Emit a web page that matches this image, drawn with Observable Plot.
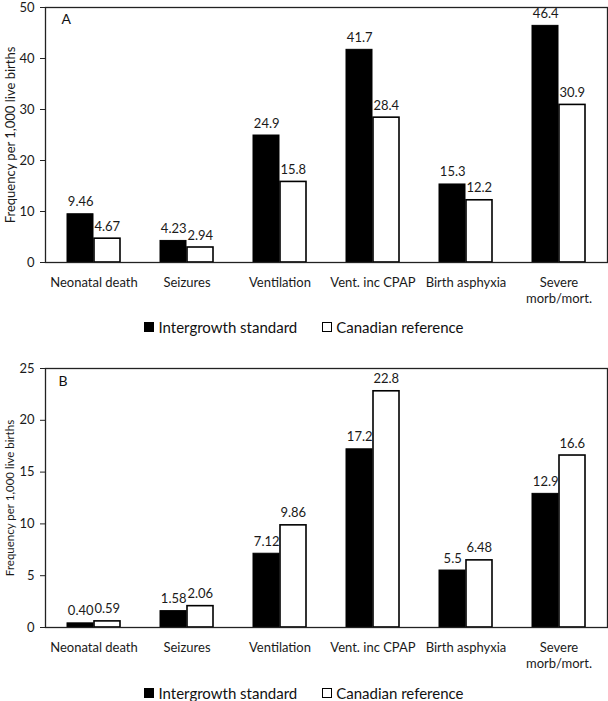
<!DOCTYPE html>
<html>
<head>
<meta charset="utf-8">
<script src="https://cdn.jsdelivr.net/npm/d3@7"></script>
<script src="https://cdn.jsdelivr.net/npm/@observablehq/plot@0.6"></script>
<style>
  html, body { margin: 0; padding: 0; background: #fff; overflow: hidden; }
  body { width: 608px; font-family: Lato, "Open Sans", sans-serif; color: #111; }
  .legend { display: flex; justify-content: center; align-items: center; font-size: 15px; gap: 25px; }
  .legend .item { display: flex; align-items: center; gap: 4px; }
  .legend .sw { width: 10px; height: 10px; box-sizing: border-box; border: 1.5px solid #000; }
  svg { display: block; }
</style>
</head>
<body>
<div id="chart"></div>
<script>
// ---- data ----
const categories = ["Neonatal death", "Seizures", "Ventilation", "Vent. inc CPAP", "Birth asphyxia", "Severe morb/mort."];
const seriesNames = ["Intergrowth standard", "Canadian reference"];
const yTitle = "Frequency per 1,000 live births";

// Panel A
const intergrowthA = [9.46, 4.23, 24.9, 41.7, 15.3, 46.4];
const canadianA = [4.67, 2.94, 15.8, 28.4, 12.2, 30.9];
const intergrowthLabelsA = ["9.46", "4.23", "24.9", "41.7", "15.3", "46.4"];
const canadianLabelsA = ["4.67", "2.94", "15.8", "28.4", "12.2", "30.9"];
const yDomainA = [0, 50];
const yTicksA = [0, 10, 20, 30, 40, 50];

// Panel B
const intergrowthB = [0.40, 1.58, 7.12, 17.2, 5.5, 12.9];
const canadianB = [0.59, 2.06, 9.86, 22.8, 6.48, 16.6];
const intergrowthLabelsB = ["0.40", "1.58", "7.12", "17.2", "5.5", "12.9"];
const canadianLabelsB = ["0.59", "2.06", "9.86", "22.8", "6.48", "16.6"];
const yDomainB = [0, 25];
const yTicksB = [0, 5, 10, 15, 20, 25];

// ---- helpers ----
const rows = (vals, labels) => categories.map((c, i) => ({category: c, value: vals[i], label: labels[i]}));
const catFormat = d => d.replace(" morb", "\nmorb");

function panel({ig, ca, igL, caL, yDomain, yTicks, letter, height, marginTop, marginBottom, titleSize, letterDx, letterDy}) {
  const igRows = rows(ig, igL);
  const caRows = rows(ca, caL);
  return Plot.plot({
    width: 608,
    height,
    marginLeft: 45,
    marginRight: 1,
    marginTop,
    marginBottom,
    style: {fontFamily: "Lato, 'Open Sans', sans-serif", fontSize: "13px", color: "#1a1a1a", background: "#fff", overflow: "visible"},
    x: {domain: categories, padding: 0},
    y: {domain: yDomain},
    marks: [
      Plot.barY(igRows, {x: "category", y: "value", fill: "#000", stroke: "#000", strokeWidth: 1, insetLeft: 20, insetRight: 47}),
      Plot.barY(caRows, {x: "category", y: "value", fill: "#fff", stroke: "#000", strokeWidth: 1.6, insetLeft: 47, insetRight: 20}),
      Plot.text(igRows, {x: "category", y: "value", text: "label", dx: -13.3, dy: -8, lineAnchor: "bottom", fontSize: 13, fill: "#1a1a1a"}),
      Plot.text(caRows, {x: "category", y: "value", text: "label", dx: 13.3, dy: -8, lineAnchor: "bottom", fontSize: 13, fill: "#1a1a1a"}),
      Plot.frame({stroke: "#222", strokeWidth: 1.3}),
      Plot.axisY({ticks: yTicks, tickSize: 5, tickPadding: 6, stroke: "#222", label: null, fontSize: 13}),
      Plot.text([yTitle], {frameAnchor: "left", dx: -35, rotate: -90, textAnchor: "middle", lineAnchor: "middle", fontSize: titleSize, fill: "#1a1a1a"}),
      Plot.axisX({tickSize: 0, tickPadding: 12, tickFormat: catFormat, lineHeight: 1.3, label: null, fontSize: 13}),
      Plot.text([letter], {frameAnchor: "top-left", dx: letterDx, dy: letterDy, textAnchor: "start", lineAnchor: "top", fontSize: 14, fill: "#111"})
    ]
  });
}

function legend(height) {
  const div = document.createElement("div");
  div.className = "legend";
  div.style.height = height + "px";
  const fills = ["#000", "#fff"];
  seriesNames.forEach((name, i) => {
    const item = document.createElement("div");
    item.className = "item";
    const sw = document.createElement("div");
    sw.className = "sw";
    sw.style.background = fills[i];
    const t = document.createElement("span");
    t.textContent = name;
    item.appendChild(sw);
    item.appendChild(t);
    div.appendChild(item);
  });
  return div;
}

const root = document.getElementById("chart");
root.appendChild(panel({ig: intergrowthA, ca: canadianA, igL: intergrowthLabelsA, caL: canadianLabelsA,
  yDomain: yDomainA, yTicks: yTicksA, letter: "A", height: 306, marginTop: 7, marginBottom: 44, titleSize: 13, letterDx: 16, letterDy: 7}));
root.appendChild(legend(42));
root.appendChild(panel({ig: intergrowthB, ca: canadianB, igL: intergrowthLabelsB, caL: canadianLabelsB,
  yDomain: yDomainB, yTicks: yTicksB, letter: "B", height: 330, marginTop: 20, marginBottom: 51, titleSize: 11.5, letterDx: 13, letterDy: 8}));
root.appendChild(legend(30));
</script>
</body>
</html>
